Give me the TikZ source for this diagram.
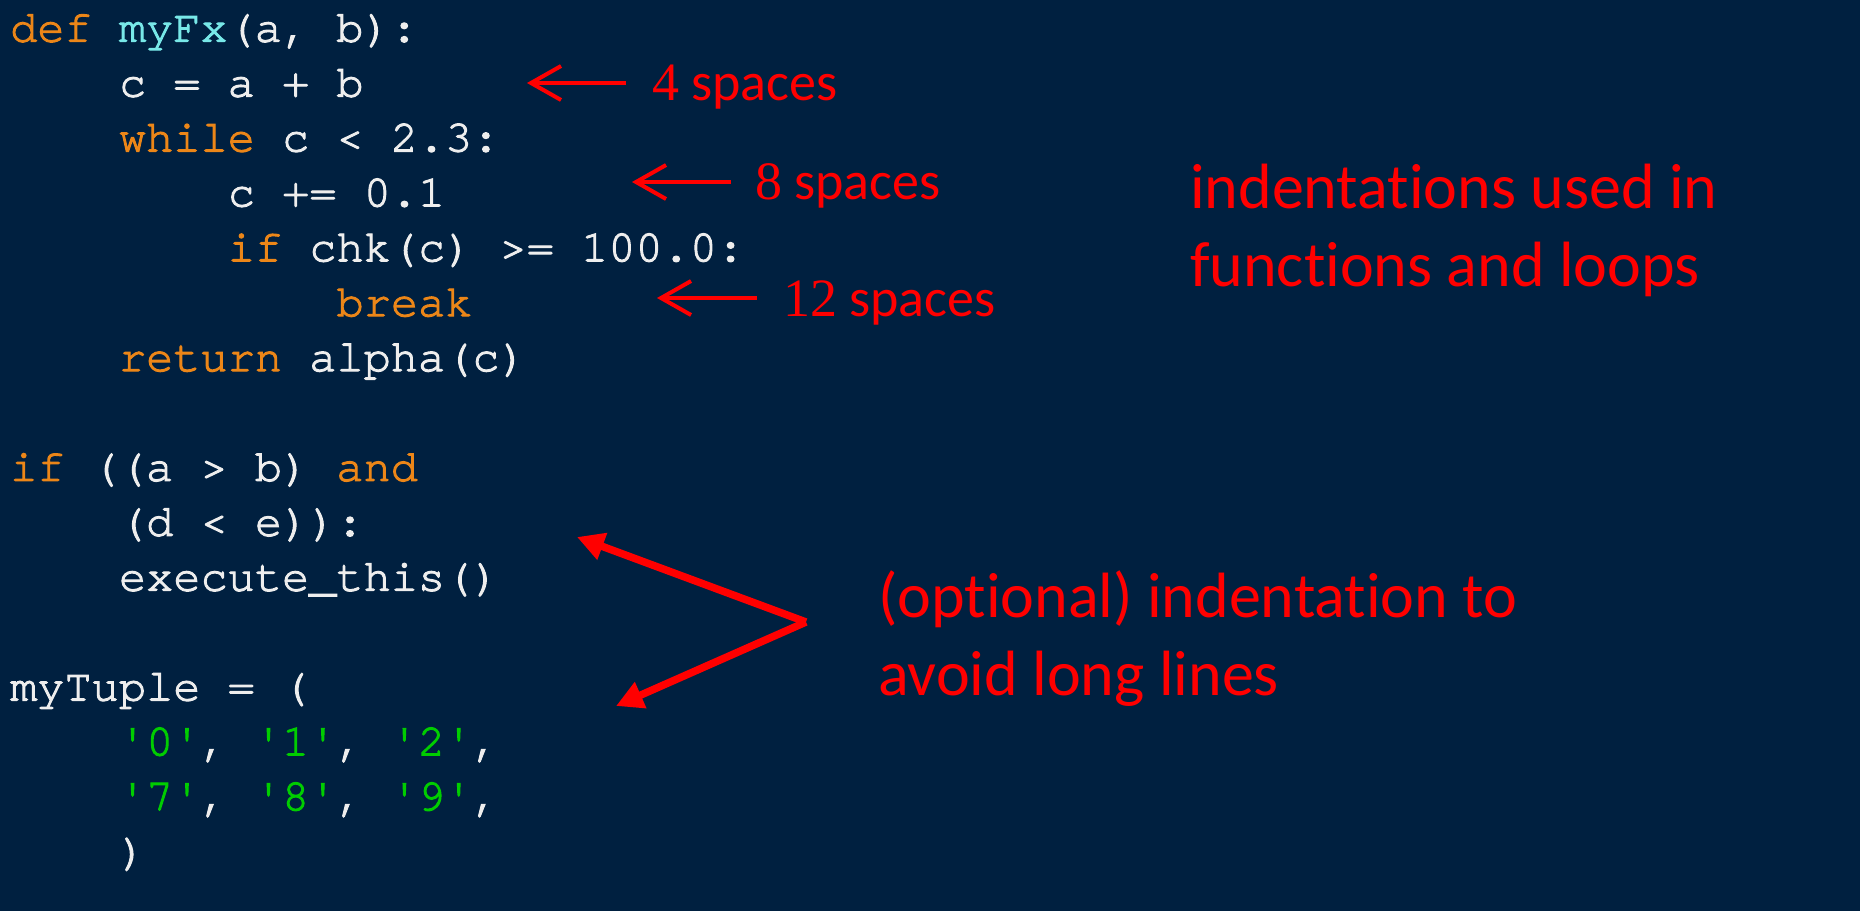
\documentclass[tikz,border=0pt]{standalone}
\usepackage{fontspec}
\usetikzlibrary{arrows.meta}
\newfontfamily\codefont{texgyrecursor-regular.otf}[Ligatures=TeXOff,FakeBold=2.2]
\newfontfamily\calfont{Carlito}[Ligatures=NoCommon]
\newfontfamily\digitfont{Liberation Serif}
\definecolor{bgnavy}{RGB}{0,32,64}
\definecolor{kwor}{RGB}{236,134,24}
\definecolor{fncy}{RGB}{120,232,232}
\definecolor{txwh}{RGB}{238,238,238}
\definecolor{strgr}{RGB}{0,205,0}
\definecolor{annred}{RGB}{255,0,0}
\tikzset{
  codeline/.style={anchor=base west, inner sep=0pt, text=txwh,
    font=\codefont\fontsize{45.3}{54}\selectfont},
  smallnote/.style={anchor=base west, inner sep=0pt, text=annred,
    font=\calfont\fontsize{54}{64}\selectfont},
  bignote/.style={anchor=base west, inner sep=0pt, text=annred, align=left,
    font=\calfont\fontsize{64}{78}\selectfont},
  thinarrow/.style={draw=annred, line width=4pt,
    -{Straight Barb[length=30pt,width=34pt,line width=4pt]}},
  thickarrow/.style={draw=annred, line width=7.5pt,
    -{Triangle[length=27pt,width=27pt]}}
}
\newcommand{\kw}[1]{\textcolor{kwor}{#1}}
\newcommand{\fn}[1]{\textcolor{fncy}{#1}}
\newcommand{\st}[1]{\textcolor{strgr}{#1}}
\begin{document}
\begin{tikzpicture}[x=1pt,y=-1pt]
\fill[bgnavy] (0,0) rectangle (1860,911);
\useasboundingbox (0,0) rectangle (1860,911);
% code lines (column width 27.2)
\node[codeline] (l0)  at (10,41.7)    {\kw{def} \fn{myFx}(a, b):};
\node[codeline] (l1)  at (118.8,96.6)  {c = a + b};
\node[codeline] (l2)  at (118.8,151.5) {\kw{while} c < 2.3:};
\node[codeline] (l3)  at (227.6,206.4) {c += 0.1};
\node[codeline] (l4)  at (227.6,261.3) {\kw{if} chk(c) >= 100.0:};
\node[codeline] (l5)  at (336.4,316.2) {\kw{break}};
\node[codeline] (l6)  at (118.8,371.1) {\kw{return} alpha(c)};
\node[codeline] (l8)  at (10,480.9)    {\kw{if} ((a > b) \kw{and}};
\node[codeline] (l9)  at (118.8,535.8) {(d < e)):};
\node[codeline] (l10) at (118.8,590.7) {execute\_this()};
\node[codeline] (l12) at (10,700.5)    {myTuple = (};
\node[codeline] (l13) at (118.8,755.4) {\st{'0'}, \st{'1'}, \st{'2'},};
\node[codeline] (l14) at (118.8,810.3) {\st{'7'}, \st{'8'}, \st{'9'},};
\node[codeline] (l15) at (118.8,865.2) {)};
% small annotations
\node[smallnote] (s4)  at (652,100) {{\digitfont 4} spaces};
\node[smallnote] (s8)  at (755,199) {{\digitfont 8} spaces};
\node[smallnote] (s12) at (783,316) {{\digitfont 12} spaces};
\coordinate (f4) at (626,83);   \coordinate (t4) at (527,83);
\coordinate (f8) at (731,182);  \coordinate (t8) at (632,182);
\coordinate (f12) at (757,298); \coordinate (t12) at (657,298);
\draw[thinarrow] (f4) -- (t4);
\draw[thinarrow] (f8) -- (t8);
\draw[thinarrow] (f12) -- (t12);
% big annotations (base = last line)
\node[bignote] (n1) at (1190,286) {indentations used in\\functions and loops};
\node[bignote] (n2) at (878,695) {(optional) indentation to\\avoid long lines};
\coordinate (v) at (806,622);
\coordinate (up) at (577,537);
\coordinate (dn) at (616,706);
\draw[thickarrow] (v) -- (up);
\draw[thickarrow] (v) -- (dn);
\end{tikzpicture}
\end{document}
